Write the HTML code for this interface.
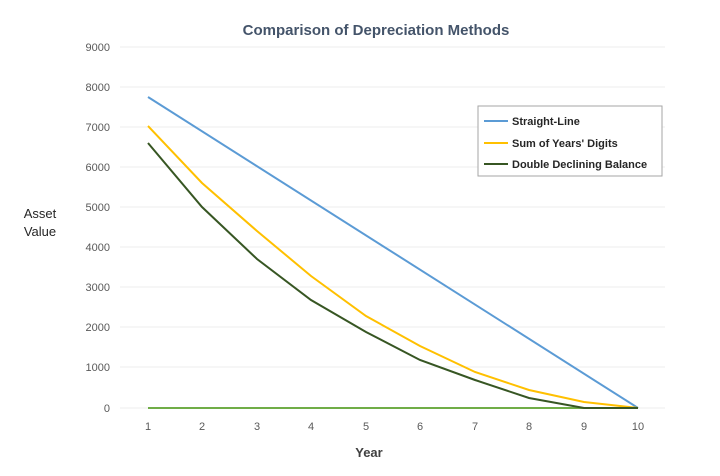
<!DOCTYPE html>
<html><head><meta charset="utf-8"><style>
body{margin:0;background:#fff;}
svg text{font-family:"Liberation Sans",sans-serif;}
</style></head><body>
<svg width="720" height="471" xmlns="http://www.w3.org/2000/svg">
<rect width="720" height="471" fill="#fff"/>
<text x="376" y="35" text-anchor="middle" font-size="15" font-weight="bold" fill="#44546a">Comparison of Depreciation Methods</text>
<g stroke="#eeeeee" stroke-width="1">
<line x1="120" x2="665" y1="47" y2="47"/><line x1="120" x2="665" y1="87" y2="87"/>
<line x1="120" x2="665" y1="127" y2="127"/><line x1="120" x2="665" y1="167" y2="167"/>
<line x1="120" x2="665" y1="207" y2="207"/><line x1="120" x2="665" y1="247" y2="247"/>
<line x1="120" x2="665" y1="287" y2="287"/><line x1="120" x2="665" y1="327" y2="327"/>
<line x1="120" x2="665" y1="367" y2="367"/><line x1="120" x2="665" y1="408" y2="408"/>
</g>
<g font-size="11" fill="#595959" text-anchor="end">
<text x="110" y="51">9000</text><text x="110" y="91">8000</text><text x="110" y="131">7000</text>
<text x="110" y="171">6000</text><text x="110" y="211">5000</text><text x="110" y="251">4000</text>
<text x="110" y="291">3000</text><text x="110" y="331">2000</text><text x="110" y="371">1000</text>
<text x="110" y="412">0</text>
</g>
<g font-size="11" fill="#595959" text-anchor="middle">
<text x="148" y="430">1</text><text x="202" y="430">2</text><text x="257" y="430">3</text>
<text x="311" y="430">4</text><text x="366" y="430">5</text><text x="420" y="430">6</text>
<text x="475" y="430">7</text><text x="529" y="430">8</text><text x="584" y="430">9</text>
<text x="638" y="430">10</text>
</g>
<text x="369" y="457" text-anchor="middle" font-size="13" font-weight="bold" fill="#404040">Year</text>
<text x="40" y="218" text-anchor="middle" font-size="13" fill="#262626">Asset</text>
<text x="40" y="236" text-anchor="middle" font-size="13" fill="#262626">Value</text>
<line x1="148" y1="408" x2="638" y2="408" stroke="#70ad47" stroke-width="2"/>
<polyline fill="none" stroke="#5b9bd5" stroke-width="2" points="148,97 638,408"/>
<polyline fill="none" stroke="#ffc000" stroke-width="2" points="148,126 202,183 257,231 311,276 366,316 420,346 475,372 529,390 584,402 638,408"/>
<polyline fill="none" stroke="#375623" stroke-width="2" points="148,143 202,207 257,259 311,300 366,332 420,360 475,380 529,398 584,408 638,408"/>
<rect x="478" y="106" width="184" height="70" fill="#fff" stroke="#a6a6a6"/>
<line x1="484" y1="121" x2="508" y2="121" stroke="#5b9bd5" stroke-width="2"/>
<line x1="484" y1="143" x2="508" y2="143" stroke="#ffc000" stroke-width="2"/>
<line x1="484" y1="164" x2="508" y2="164" stroke="#375623" stroke-width="2"/>
<g font-size="11" fill="#262626" font-weight="bold">
<text x="512" y="125">Straight-Line</text>
<text x="512" y="147">Sum of Years' Digits</text>
<text x="512" y="168">Double Declining Balance</text>
</g>
</svg>
</body></html>
